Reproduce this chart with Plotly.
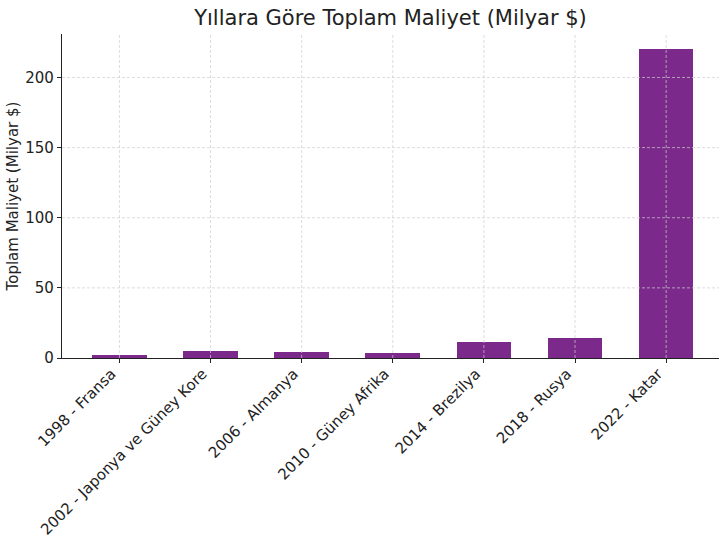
import plotly.graph_objects as go

categories = [
    "1998 - Fransa",
    "2002 - Japonya ve Güney Kore",
    "2006 - Almanya",
    "2010 - Güney Afrika",
    "2014 - Brezilya",
    "2018 - Rusya",
    "2022 - Katar",
]
costs = [2.3, 5.0, 4.3, 3.6, 11.6, 14.2, 220.0]
y_ticks = [0, 50, 100, 150, 200]

BAR_COLOR = "#7B2A8C"
GRID_COLOR = "#CFCFCF"
FONT = "DejaVu Sans"

fig = go.Figure(
    go.Bar(
        x=list(range(len(categories))),
        y=costs,
        width=0.6,
        marker=dict(color=BAR_COLOR, line=dict(width=0)),
    )
)

# matplotlib tarzı: ızgara çubukların üstünde
grid_line = dict(color=GRID_COLOR, width=0.7, dash="3px,2px")
for i in range(len(categories)):
    fig.add_shape(type="line", xref="x", yref="paper", x0=i, x1=i, y0=0, y1=1,
                  line=grid_line, layer="above")
for t in y_ticks[1:]:
    fig.add_shape(type="line", xref="paper", yref="y", x0=0, x1=1, y0=t, y1=t,
                  line=grid_line, layer="above")

fig.update_layout(
    width=719,
    height=539,
    paper_bgcolor="white",
    plot_bgcolor="white",
    font=dict(family=FONT, size=15, color="#222"),
    title=dict(
        text="Yıllara Göre Toplam Maliyet (Milyar $)",
        x=0.5, xref="paper", xanchor="center",
        y=0.968, yref="container", yanchor="middle",
        font=dict(size=21, color="#222"),
    ),
    margin=dict(l=62, r=0, t=34, b=181, autoexpand=False),
    showlegend=False,
    bargap=0,
)
fig.update_xaxes(
    range=[-0.63, 6.58],
    tickmode="array",
    tickvals=list(range(len(categories))),
    ticktext=categories,
    tickangle=-45,
    ticklabelshift=-8,
    ticklabelstandoff=-4,
    showgrid=False,
    showline=True, linecolor="#222", linewidth=1.2,
    ticks="outside", ticklen=4, tickcolor="#222",
    zeroline=False,
    automargin=False,
)
fig.update_yaxes(
    range=[0, 231],
    tickvals=y_ticks,
    title=dict(text="Toplam Maliyet (Milyar $)", font=dict(size=15), standoff=3),
    showgrid=False,
    showline=True, linecolor="#222", linewidth=1.2,
    ticks="outside", ticklen=4, tickcolor="#222",
    zeroline=False,
    automargin=False,
)

fig.write_html(
    "out.html",
    config={"displayModeBar": False},
    post_script="document.body.style.margin='0';",
)
